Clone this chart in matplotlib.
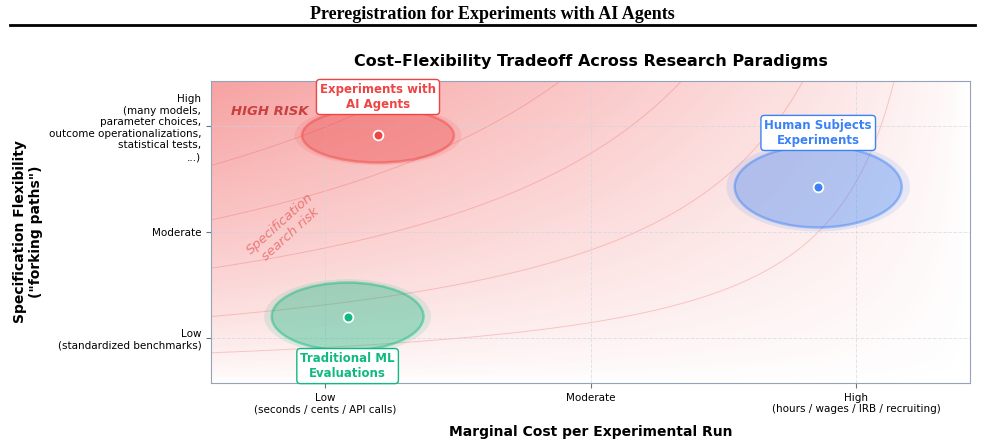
import numpy as np
import matplotlib
matplotlib.use("Agg")
import matplotlib.pyplot as plt
from matplotlib.patches import Ellipse
from matplotlib.colors import to_rgba

# paradigms: name, cost (x), flexibility (y), ellipse width/height, colour, label y
names = ["Experiments with\nAI Agents", "Human Subjects\nExperiments", "Traditional ML\nEvaluations"]
cost = [2.2, 8.0, 1.8]
flex = [8.2, 6.5, 2.2]
widths = [2.0, 2.2, 2.0]
heights = [1.8, 2.7, 2.25]
colors = ["#ef4444", "#3b82f6", "#10b981"]
label_y = [9.47, 8.28, 0.56]

xticks = [1.5, 5, 8.5]
xlabels = ["Low\n(seconds / cents / API calls)", "Moderate", "High\n(hours / wages / IRB / recruiting)"]
yticks = [1.5, 5, 8.5]
ylabels = ["Low\n(standardized benchmarks)", "Moderate",
           "High\n(many models,\nparameter choices,\noutcome operationalizations,\nstatistical tests,\n...)"]
risk_levels = [0.10, 0.22, 0.38, 0.54, 0.72]

fig = plt.figure(figsize=(9.85, 4.44), dpi=100)
ax = fig.add_axes([0.2142, 0.1374, 0.7706, 0.6802])

# risk background: high flexibility + low cost = high risk
gx = np.linspace(0, 10, 300)
gy = np.linspace(0, 10, 300)
X, Y = np.meshgrid(gx, gy)
Z = (Y / 10) * (1 - X / 10)
rgba = np.zeros((300, 300, 4))
rgba[..., 0] = 239 / 255
rgba[..., 1] = 68 / 255
rgba[..., 2] = 68 / 255
rgba[..., 3] = 0.5 * Z ** 0.75
ax.imshow(rgba, extent=[0, 10, 0, 10], origin="lower", aspect="auto", zorder=0)
ax.contour(X, Y, Z, levels=risk_levels, colors="#ef4444", alpha=0.25, linewidths=0.7, zorder=1)

for i in range(3):
    halo = Ellipse((cost[i], flex[i]), widths[i] * 1.1, heights[i] * 1.1,
                   facecolor=to_rgba(colors[i], 0.12), edgecolor="none", zorder=2)
    ax.add_patch(halo)
    ell = Ellipse((cost[i], flex[i]), widths[i], heights[i],
                  facecolor=to_rgba(colors[i], 0.3), edgecolor=to_rgba(colors[i], 0.45),
                  lw=1.8, zorder=3)
    ax.add_patch(ell)
    ax.plot(cost[i], flex[i], "o", color=colors[i], mec="white", mew=1.3, ms=7, zorder=5)
    ax.text(cost[i], label_y[i], names[i], ha="center", va="center", fontsize=8.5,
            fontweight="bold", color=colors[i], zorder=6,
            bbox=dict(boxstyle="round,pad=0.3", facecolor="white", edgecolor=colors[i], lw=1))

ax.text(0.78, 9.0, "HIGH RISK", fontsize=9.5, fontweight="bold", style="italic",
        color="#b91c1c", alpha=0.75, ha="center", va="center", zorder=4)
ax.text(0.98, 5.1, "Specification\nsearch risk", fontsize=9.5, style="italic",
        color="#dc2626", alpha=0.5, ha="center", va="center", rotation=42, zorder=4)

ax.set_xlim(0, 10)
ax.set_ylim(0, 10)
ax.set_xticks(xticks)
ax.set_xticklabels(xlabels, fontsize=7.5)
ax.set_yticks(yticks)
ax.set_yticklabels(ylabels, fontsize=7.5)
ax.grid(True, ls="--", color="#cbd5e1", alpha=0.6, lw=0.7)
ax.tick_params(colors="#64748b", labelcolor="black")
for s in ax.spines.values():
    s.set_color("#94a3b8")

ax.set_xlabel("Marginal Cost per Experimental Run", fontsize=10, fontweight="bold", labelpad=8)
ax.set_ylabel("Specification Flexibility\n(\"forking paths\")", fontsize=10, fontweight="bold", labelpad=4)
ax.set_title("Cost\u2013Flexibility Tradeoff Across Research Paradigms", fontsize=11.5,
             fontweight="bold", pad=11)

fig.text(0.5, 0.968, "Preregistration for Experiments with AI Agents", ha="center", va="center",
         fontsize=13, fontweight="bold", family="Liberation Serif")
fig.add_artist(plt.Line2D([0.01, 0.99], [0.944, 0.944], color="black", lw=2, transform=fig.transFigure))

fig.savefig("out.png", dpi=100)
